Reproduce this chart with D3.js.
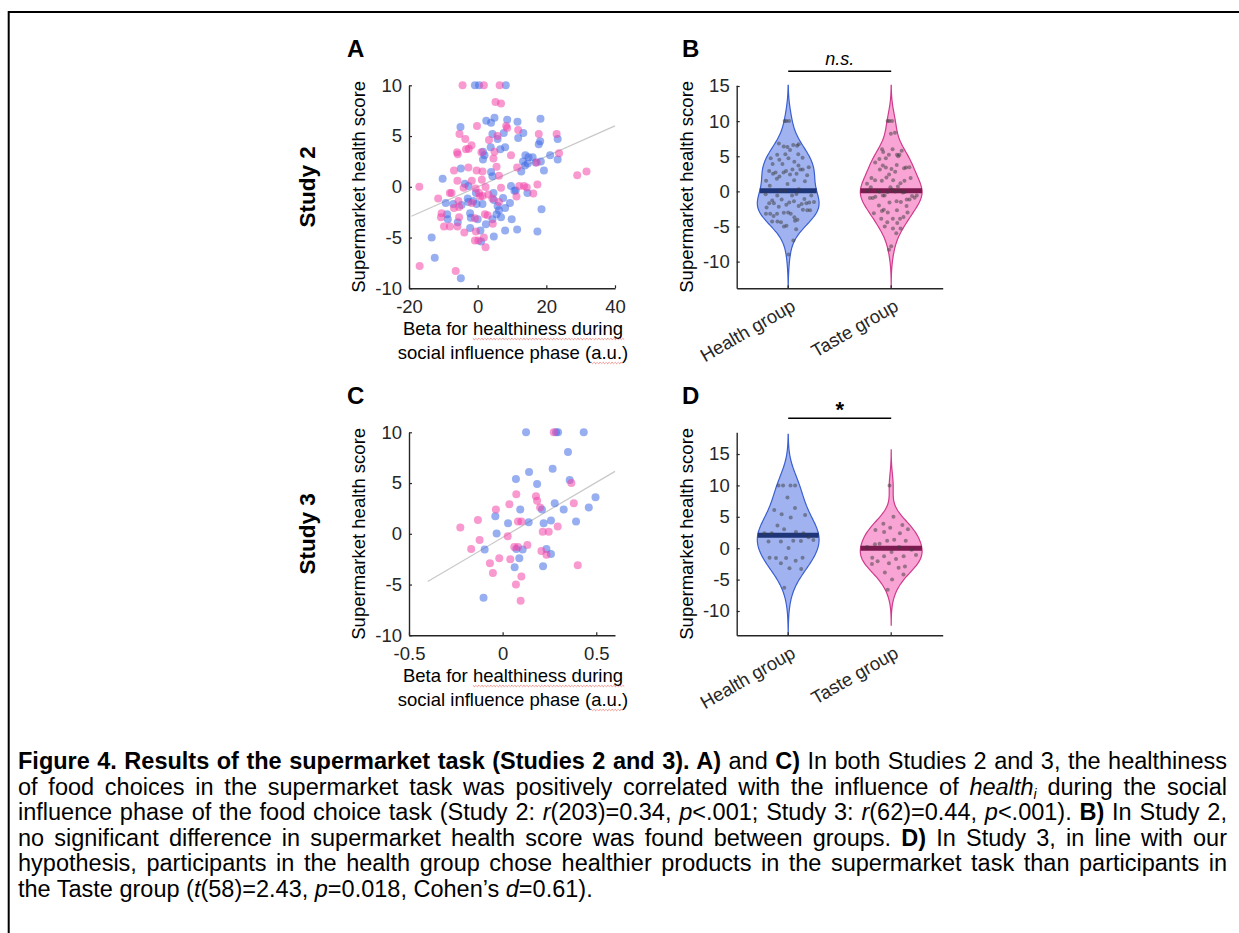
<!DOCTYPE html>
<html>
<head>
<meta charset="utf-8">
<script src="https://cdn.jsdelivr.net/npm/d3@7"></script>
<style>
  body { margin: 0; background: #fff; width: 1239px; height: 933px; overflow: hidden; position: relative; }
  #fig { position: absolute; left: 0; top: 0; }
  .caption { position: absolute; left: 18px; top: 749px; width: 1209px;
             font-family: Arial, "Liberation Sans", Helvetica, sans-serif;
             font-size: 23.5px; line-height: 25.6px; color: #000; }
  .caption div { text-align: justify; text-align-last: justify; }
  .caption div.last { text-align-last: left; }
  .caption sub { font-size: 0.6em; vertical-align: -0.25em; line-height: 0; }
</style>
</head>
<body>
<svg id="fig" width="1239" height="933"></svg>
<div class="caption">
  <div><b>Figure 4. Results of the supermarket task (Studies 2 and 3). A)</b> and <b>C)</b> In both Studies 2 and 3, the healthiness</div>
  <div>of food choices in the supermarket task was positively correlated with the influence of <i>health<sub>i</sub></i> during the social</div>
  <div>influence phase of the food choice task (Study 2: <i>r</i>(203)=0.34, <i>p</i>&lt;.001; Study 3: <i>r</i>(62)=0.44, <i>p</i>&lt;.001). <b>B)</b> In Study 2,</div>
  <div>no significant difference in supermarket health score was found between groups. <b>D)</b> In Study 3, in line with our</div>
  <div>hypothesis, participants in the health group chose healthier products in the supermarket task than participants in</div>
  <div class="last">the Taste group (<i>t</i>(58)=2.43, <i>p</i>=0.018, Cohen’s <i>d</i>=0.61).</div>
</div>
<script>
// ---- data ----
const groups = ['Health group', 'Taste group'];

// Study 2: [beta for healthiness, supermarket health score]
const study2Health = [
  [-0.8,10],[0.4,10],[8.2,10],
  [2.5,6.5],[3.9,6.3],[4.9,6.8],[8.6,6.6],[11.6,6.4],[18.3,6.7],
  [-5.0,5.9],
  [4.3,5.2],[7.6,5.3],[13.3,5.3],[23.3,4.7],[17.8,4.2],[18.2,4.5],[11.8,4.8],
  [5.8,4.7],[8.0,3.9],[6.6,3.7],
  [3.8,3.9],[1.55,3.45],[2.0,3.1],[1.55,2.7],
  [13.9,3.1],[14.8,2.9],[16.0,2.9],[13.2,2.5],[13.8,2.1],[14.6,2.3],[16.9,2.4],[18.4,2.5],[21.1,3.1],[23.3,2.7],
  [12.7,1.5],[19.3,1.6],
  [-4.9,1.8],[3.9,1.45],[4.3,1.05],
  [-10.2,0.8],[-3.7,0.3],[-2.7,0.07],[-0.5,-0.6],[4.6,-0.6],[4.7,-1.3],[7.4,-1.1],[9.7,0.07],[10.7,-0.4],[11.1,-0.36],[14.5,-0.6],[9.4,-1.6],
  [-9.3,-1.6],[-7.1,-1.7],[-4.7,-1.8],[-2.9,-1.15],[-2.7,-1.5],[-1.3,-1.4],[-0.3,-1.7],[1.4,-1.7],[5.8,-1.9],[6.2,-2.3],[8.0,-2.1],[18.6,-2.2],
  [-8.9,-2.7],[-8.7,-3.2],[-5.8,-3.5],[-2.2,-2.6],[-2.0,-3.05],[0,-3.2],[2.4,-3.7],[4.3,-3.2],[5.5,-2.7],[6.8,-3.0],[9.9,-3.2],[-2.2,-4.05],
  [-13.4,-5.0],[-12.5,-7.0],[-4.9,-9.0],[0.8,-4.3],[1.0,-5.4],[4.7,-4.9],[8.0,-4.3],[11.5,-4.2],[17.4,-4.4]
];
const study2Taste = [
  [-4.4,10],[1.8,10],[6.4,10],
  [5.2,8.35],[6.8,8.2],
  [-0.2,6.0],
  [-5.3,5.2],[-3.6,4.7],[8.6,5.8],[8.3,6.0],[11.8,5.6],[17.8,5.2],[23.0,5.2],
  [-1.8,4.1],[-2.6,3.75],[-3.4,3.7],[-6.0,3.4],[-5.8,3.2],
  [3.3,4.6],[5.8,5.0],[1.1,3.4],[4.9,3.45],[4.6,2.8],[9.7,3.1],
  [23.7,3.3],[17.2,2.4],[11.5,1.9],[29.0,1.15],[31.7,1.5],
  [-2.7,1.9],[-6.9,1.6],[-0.3,1.6],[1.4,1.5],[5.5,1.97],[6.2,1.1],[1.2,0.7],
  [-17.0,0],[-11.5,-1.15],[-5.9,0.6],[-1.7,0.6],[-0.6,-0.16],[0.4,-0.6],[1.4,-0.9],[2.3,-0.03],[3.1,-0.75],[4.3,-1.15],[6.8,-0.1],[12.1,0.07],[13.5,0.07],[14.3,-0.07],[16.2,-0.66],[17.4,0.23],[11.3,-0.95],[-4.1,-0.1],
  [-8.1,-0.6],[-7.6,-0.6],[-5.6,-1.4],[-5.4,-2.0],[-6.9,-2.1],[-1.7,-1.6],[0.7,-0.95],[6.2,-1.5],
  [-10.5,-2.6],[-10.7,-3.0],[-9.8,-3.9],[-8.1,-3.9],[-5.9,-3.9],[-5.4,-3.0],[-0.8,-3.1],[2.1,-2.7],[2.9,-2.8],[4.4,-3.65],
  [-16.9,-7.8],[-6.4,-8.3],[-3.9,-4.5],[-0.5,-4.4],[-0.8,-5.3],[0.2,-5.3],[1.8,-5.0],[2.3,-5.95]
];

// Study 3
const study3Health = [
  [0.125,10],[0.285,10],[0.296,10],[0.433,10],
  [0.349,8.06],[0.141,6.1],[0.267,6.4],[0.071,5.4],[0.358,5.3],[0.184,4.9],
  [0.094,2.4],[0.21,2.4],[0.278,3.0],[0.326,2.4],[0.46,2.6],[0.496,3.6],
  [-0.039,1.74],[-0.032,0.03],[0.029,1.05],[0.139,1.15],[0.219,1.05],[0.258,1.3],[0.392,1.2],
  [-0.096,-1.55],[0.073,-1.5],[0.107,-1.55],[0.234,-1.5],[0.258,-2.0],[0.089,-2.4],[0.064,-3.3],[0.216,-3.2],[-0.102,-6.3]
];
const study3Taste = [
  [0.273,10],[0.367,5.0],[0.073,3.9],[0.178,3.7],[0.184,3.25],[0.036,2.9],[-0.036,2.4],[0.2,2.6],[0.38,3.0],
  [-0.132,1.35],[-0.226,0.63],[0.082,1.2],[0.1,1.2],[0.214,0.2],[0.246,0.2],[0.294,0.72],[0.027,-0.23],
  [-0.123,-0.6],[-0.168,-1.5],[0.062,-1.3],[0.082,-1.3],[0.132,-1.1],[0.207,-1.7],[0.234,-2.07],
  [-0.068,-2.9],[-0.018,-2.4],[0.041,-2.5],[0.401,-3.1],[-0.052,-3.85],[0.1,-4.2],[0.071,-5.0],[0.096,-6.6]
];

// least-squares lines as drawn in the figure: [x, y] end points
const fitA = [[-19.3, -2.9], [40, 6.0]];
const fitC = [[-0.4, -4.7], [0.6, 6.15]];

const xTicksA = [-20, 0, 20, 40];
const xTicksC = [-0.5, 0, 0.5];
const yTicksScatter = [-10, -5, 0, 5, 10];
const yTicksViolin = [-10, -5, 0, 5, 10, 15];

// ---- drawing ----
const FONT = 'Arial, "Liberation Sans", Helvetica, sans-serif';
const AXIS = '#262626';
const BLUE = '#416be3', PINK = '#f346aa';
const VIOLIN = {
  'Health group': { fill: '#a0b3f0', edge: '#3b5fd0', median: '#1e3577' },
  'Taste group':  { fill: '#f8a4d4', edge: '#cf3b8d', median: '#7c1b4f' }
};
const PW = 206, PH = 203;

const svg = d3.select('#fig');

// frame
svg.append('path')
  .attr('d', 'M8.7,933 L8.7,12 L1239,12')
  .attr('fill', 'none').attr('stroke', '#000').attr('stroke-width', 2);

function styleAxis(sel) {
  sel.attr('font-size', null).attr('font-family', null);
  sel.select('.domain').attr('stroke', AXIS).attr('stroke-width', 1.4);
  sel.selectAll('.tick line').attr('stroke', AXIS).attr('stroke-width', 1.2);
  sel.selectAll('.tick text').attr('fill', AXIS)
    .style('font-size', '18.5px').style('font-family', FONT);
}

function yLabel(g, text, x) {
  g.append('text')
    .attr('transform', `translate(${x},${PH / 2}) rotate(-90)`)
    .attr('text-anchor', 'middle')
    .style('font-family', FONT).style('font-size', '18.5px').attr('fill', '#000')
    .text(text);
}

function squiggle(textEl, from, count, yBase) {
  const node = textEl.node();
  const x0 = node.getStartPositionOfChar(from).x;
  const x1 = node.getEndPositionOfChar(from + count - 1).x;
  let d = `M${x0},${yBase}`;
  for (let x = x0, k = 0; x < x1; x += 1.5, k++) {
    d += ` L${x + 1.5},${yBase + (k % 2 ? 0 : 1.4)}`;
  }
  d3.select(node.parentNode).append('path')
    .attr('d', d).attr('fill', 'none').attr('stroke', '#e8443a')
    .attr('stroke-width', 0.8).attr('stroke-dasharray', '1.2,0.6');
}

function drawScatter(left, top, health, taste, xDomain, xTicks, fit) {
  const g = svg.append('g').attr('transform', `translate(${left},${top})`);
  const x = d3.scaleLinear().domain(xDomain).range([0, PW]);
  const y = d3.scaleLinear().domain([-10, 10]).range([PH, 0]);

  g.append('line')
    .attr('x1', x(fit[0][0])).attr('y1', y(fit[0][1]))
    .attr('x2', x(fit[1][0])).attr('y2', y(fit[1][1]))
    .attr('stroke', '#c8c8c8').attr('stroke-width', 1.2);

  [[health, BLUE], [taste, PINK]].forEach(([pts, c]) => {
    g.append('g').selectAll('circle').data(pts).join('circle')
      .attr('cx', d => x(d[0])).attr('cy', d => y(d[1])).attr('r', 4)
      .attr('fill', c).attr('fill-opacity', 0.55);
  });

  g.append('g').attr('transform', `translate(0,${PH})`)
    .call(d3.axisBottom(x).tickValues(xTicks).tickFormat(d => String(d))
      .tickSizeInner(-3).tickSizeOuter(0).tickPadding(12))
    .call(styleAxis);
  g.append('g')
    .call(d3.axisLeft(y).tickValues(yTicksScatter).tickFormat(d => String(d))
      .tickSizeInner(-3).tickSizeOuter(0).tickPadding(7))
    .call(styleAxis);

  yLabel(g, 'Supermarket health score', -44);

  const l1 = g.append('text').attr('x', PW / 2 + 1).attr('y', PH + 47)
    .attr('text-anchor', 'middle').style('font-family', FONT).style('font-size', '18.5px')
    .text('Beta for healthiness during');
  const l2 = g.append('text').attr('x', PW / 2 + 1).attr('y', PH + 71)
    .attr('text-anchor', 'middle').style('font-family', FONT).style('font-size', '18.5px')
    .text('social influence phase (a.u.)');
  squiggle(l1, 9, 18, PH + 50);
  squiggle(l2, 24, 4, PH + 74);
  return g;
}

function matlabBandwidth(values) {
  const med = d3.median(values);
  const mad = d3.median(values, v => Math.abs(v - med));
  return (mad / 0.6745) * Math.pow(4 / (3 * values.length), 0.2);
}

function kde(values, bw) {
  const k = u => Math.exp(-0.5 * u * u) / Math.sqrt(2 * Math.PI);
  return t => d3.mean(values, v => k((t - v) / bw)) / bw;
}

function drawViolins(left, top, healthVals, tasteVals, yDomain, sig) {
  const g = svg.append('g').attr('transform', `translate(${left},${top})`);
  const x = d3.scaleBand().domain(groups).range([0, PW]);
  const y = d3.scaleLinear().domain(yDomain).range([PH, 0]);
  const halfMax = 0.3 * x.bandwidth();

  [[groups[0], healthVals], [groups[1], tasteVals]].forEach(([name, vals]) => {
    const cx = x(name) + x.bandwidth() / 2;
    const bw = matlabBandwidth(vals);
    const dens = kde(vals, bw);
    const lo = Math.max(d3.min(vals) - 3 * bw, yDomain[0]);
    const hi = Math.min(d3.max(vals) + 3 * bw, yDomain[1]);
    const grid = d3.range(0, 121).map(i => lo + (hi - lo) * i / 120);
    const prof = grid.map(t => ({ t, d: dens(t) }));
    const dMax = d3.max(prof, p => p.d);
    const w = d => d / dMax * halfMax;
    const col = VIOLIN[name];

    g.append('path').datum(prof)
      .attr('d', d3.area().curve(d3.curveBasis)
        .y(p => y(p.t)).x0(p => cx - w(p.d)).x1(p => cx + w(p.d)))
      .attr('fill', col.fill).attr('stroke', col.edge).attr('stroke-width', 1.2);

    const med = d3.median(vals);
    const mw = w(dens(med));
    g.append('line')
      .attr('x1', cx - mw).attr('x2', cx + mw).attr('y1', y(med)).attr('y2', y(med))
      .attr('stroke', col.median).attr('stroke-width', 5);

    g.append('g').selectAll('circle').data(vals).join('circle')
      .attr('cx', (v, i) => cx + (((i * 0.6180339887) % 1) * 2 - 1) * 0.85 * w(dens(v)))
      .attr('cy', v => y(v)).attr('r', 2)
      .attr('fill', '#3c3c3c').attr('fill-opacity', 0.5);
  });

  g.append('g').attr('transform', `translate(0,${PH})`)
    .call(d3.axisBottom(x).tickSizeInner(-3).tickSizeOuter(0).tickPadding(8))
    .call(styleAxis)
    .call(ax => ax.selectAll('.tick text')
      .attr('text-anchor', 'end').attr('dy', null).attr('y', null)
      .attr('transform', 'translate(6,17) rotate(-30)')
      .attr('dominant-baseline', 'middle'));
  g.append('g')
    .call(d3.axisLeft(y).tickValues(yTicksViolin).tickFormat(d => String(d))
      .tickSizeInner(-3).tickSizeOuter(0).tickPadding(7))
    .call(styleAxis);

  yLabel(g, 'Supermarket health score', -44);

  const c1 = x(groups[0]) + x.bandwidth() / 2, c2 = x(groups[1]) + x.bandwidth() / 2;
  g.append('line').attr('x1', c1).attr('x2', c2).attr('y1', -14).attr('y2', -14)
    .attr('stroke', '#000').attr('stroke-width', 1.4);
  g.append('text').attr('x', (c1 + c2) / 2).attr('y', sig === '*' ? -15 : -20)
    .attr('text-anchor', 'middle').style('font-family', FONT)
    .style('font-size', sig === '*' ? '22px' : '18px')
    .style('font-style', sig === '*' ? 'normal' : 'italic')
    .style('font-weight', sig === '*' ? 'bold' : 'normal')
    .text(sig);
  return g;
}

const col1 = 409, col2 = 736.7, row1 = 85.3, row2 = 432.3;
drawScatter(col1, row1, study2Health, study2Taste, [-20, 40], xTicksA, fitA);
drawScatter(col1, row2, study3Health, study3Taste, [-0.5, 0.6], xTicksC, fitC);
drawViolins(col2, row1, study2Health.map(d => d[1]), study2Taste.map(d => d[1]), [-13.8, 15.1], 'n.s.');
drawViolins(col2, row2, study3Health.map(d => d[1]), study3Taste.map(d => d[1]), [-13.87, 18.46], '*');

// panel letters and study labels
[['A', 347, 57], ['B', 682, 57], ['C', 347, 404], ['D', 682, 404]].forEach(([t, px, py]) => {
  svg.append('text').attr('x', px).attr('y', py)
    .style('font-family', FONT).style('font-size', '24px').style('font-weight', 'bold').text(t);
});
[['Study 2', row1 + PH / 2], ['Study 3', row2 + PH / 2]].forEach(([t, cy]) => {
  svg.append('text').attr('transform', `translate(315,${cy}) rotate(-90)`)
    .attr('text-anchor', 'middle')
    .style('font-family', FONT).style('font-size', '22.5px').style('font-weight', 'bold').text(t);
});
</script>
</body>
</html>
